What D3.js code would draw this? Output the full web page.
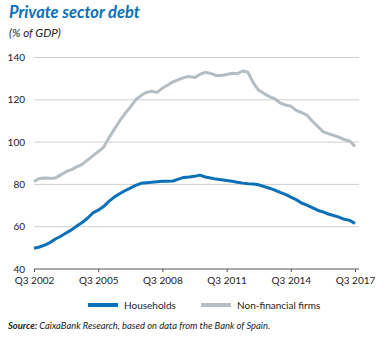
<!DOCTYPE html>
<html>
<head>
<meta charset="utf-8">
<script src="https://cdn.jsdelivr.net/npm/d3@7"></script>
<style>
  body { margin: 0; background: #fff; }
  svg text { font-family: Lato, "Open Sans", sans-serif; fill: #222; }
</style>
</head>
<body>
<svg id="chart" width="386" height="338"></svg>
<script>
// quarterly series, Q3 2002 .. Q3 2017
var households = [
  49.8, 50.4, 51.3, 52.5, 54.2, 55.5, 57.0, 58.5, 60.3, 62.0,
  64.0, 66.5, 67.8, 69.5, 72.0, 74.0, 75.6, 77.0, 78.2, 79.5,
  80.5, 80.8, 81.0, 81.3, 81.5, 81.5, 81.6, 82.5, 83.3, 83.5,
  83.8, 84.4, 83.5, 83.0, 82.5, 82.2, 81.8, 81.5, 81.0, 80.6,
  80.3, 80.2, 79.8, 79.0, 78.2, 77.3, 76.2, 75.3, 74.0, 72.8,
  71.2, 70.2, 69.0, 67.8, 67.0, 66.0, 65.3, 64.5, 63.5, 63.0,
  61.5
];
var firms = [
  81.3, 82.8, 83.0, 82.9, 83.0, 84.5, 86.0, 87.0, 88.3, 89.5,
  91.5, 93.5, 95.5, 97.5, 102.0, 106.0, 110.0, 113.5, 116.5, 120.0,
  122.0, 123.5, 124.0, 123.5, 125.5, 127.0, 128.5, 129.5, 130.5, 131.0,
  130.5, 132.0, 133.0, 132.5, 131.5, 131.5, 132.0, 132.5, 132.3, 133.6,
  133.0, 128.0, 124.5, 123.0, 121.5, 120.5, 118.5, 117.5, 117.0, 115.0,
  114.0, 112.8, 110.0, 107.5, 105.0, 104.0, 103.2, 102.3, 101.2, 100.5,
  98.0
];
var xTickLabels = ['Q3 2002', 'Q3 2005', 'Q3 2008', 'Q3 2011', 'Q3 2014', 'Q3 2017'];
var yTicks = [40, 60, 80, 100, 120, 140];
var seriesNames = ['Households', 'Non-financial firms'];
var seriesColors = ['#0a71b9', '#b4bdc1'];

var svg = d3.select('#chart');
var margin = {left: 34, right: 27, top: 57.5, bottom: 69};
var W = 386, H = 338;

var x = d3.scaleLinear().domain([0, households.length - 1]).range([margin.left, W - margin.right - 4]);
var y = d3.scaleLinear().domain([40, 140]).range([H - margin.bottom, margin.top]);

// title
svg.append('text').attr('x', 9).attr('y', 18)
  .style('font-size', '16.5px').style('font-weight', 'bold').style('font-style', 'italic')
  .style('fill', '#0a71b9').text('Private sector debt');
svg.append('text').attr('x', 9).attr('y', 37)
  .style('font-size', '11.5px').style('font-style', 'italic')
  .text('(% of GDP)');

// gridlines
svg.append('g').selectAll('line').data(yTicks.slice(1)).enter().append('line')
  .attr('x1', margin.left).attr('x2', W - margin.right)
  .attr('y1', function(d) { return y(d); }).attr('y2', function(d) { return y(d); })
  .attr('stroke', '#cfcfcf').attr('stroke-width', 1);

// y labels
svg.append('g').selectAll('text').data(yTicks).enter().append('text')
  .attr('x', 25).attr('y', function(d) { return y(d) + 3.5; })
  .attr('text-anchor', 'end').style('font-size', '10px')
  .text(function(d) { return d; });

// x axis
var tickIdx = xTickLabels.map(function(d, i) { return i * 12; });
var xAxis = d3.axisBottom(x).tickValues(tickIdx)
  .tickFormat(function(d, i) { return xTickLabels[i]; })
  .tickSize(3).tickSizeOuter(0);
var gx = svg.append('g').attr('transform', 'translate(0,' + y(40) + ')').call(xAxis);
gx.select('.domain').attr('stroke', '#555').attr('d', 'M' + margin.left + ',0H' + (W - margin.right));
gx.selectAll('.tick line').attr('stroke', '#555');
gx.selectAll('.tick text').style('font-size', '10px').style('font-family', 'Lato, "Open Sans", sans-serif')
  .attr('fill', '#222').attr('dy', '0.9em');

// lines
var line = d3.line().x(function(d, i) { return x(i); }).y(function(d) { return y(d); });
[firms, households].forEach(function(s, k) {
  svg.append('path').datum(s).attr('d', line)
    .attr('fill', 'none').attr('stroke', seriesColors[1 - k])
    .attr('stroke-width', 3).attr('stroke-linejoin', 'round');
});

// legend
var legX = [88, 201];
var lg = svg.append('g').attr('transform', 'translate(0,305)');
seriesNames.forEach(function(n, i) {
  lg.append('line').attr('x1', legX[i]).attr('x2', legX[i] + 30).attr('y1', 0).attr('y2', 0)
    .attr('stroke', seriesColors[i]).attr('stroke-width', 4);
  lg.append('text').attr('x', legX[i] + 36).attr('y', 3.5).style('font-size', '10px').text(n);
});

// source
var src = svg.append('text').attr('x', 8).attr('y', 329).style('font-size', '9.4px').style('font-style', 'italic');
src.append('tspan').style('font-weight', 'bold').text('Source: ');
src.append('tspan').text('CaixaBank Research, based on data from the Bank of Spain.');
</script>
</body>
</html>
